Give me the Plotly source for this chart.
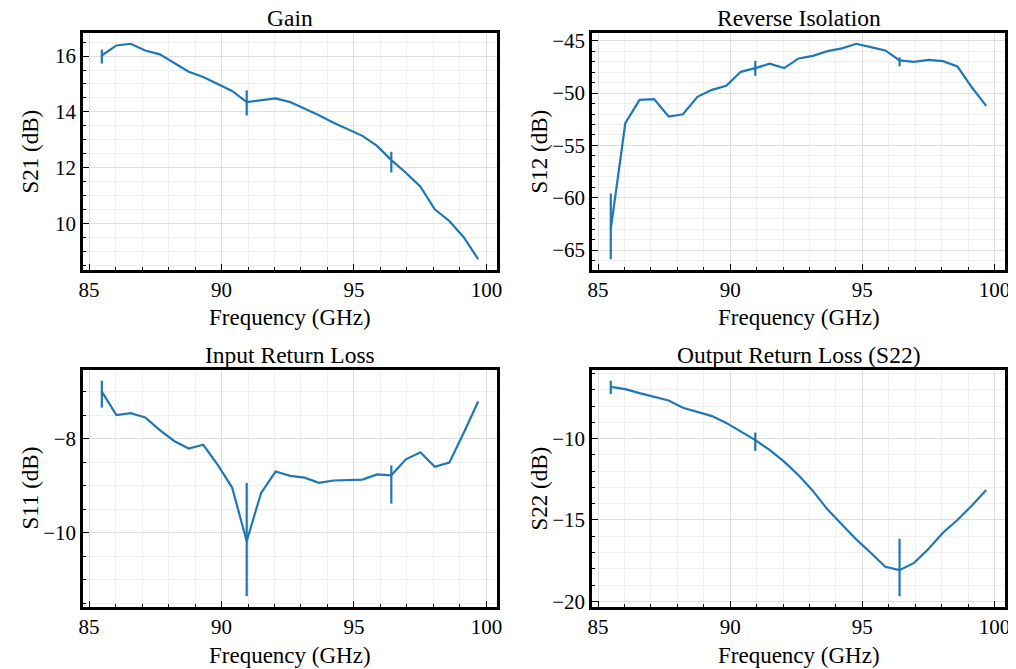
import plotly.graph_objects as go

# ---- data ----
freq = [85.48, 86.03, 86.57, 87.12, 87.67, 88.21, 88.76, 89.31, 89.85, 90.40,
        90.95, 91.49, 92.04, 92.59, 93.13, 93.68, 94.23, 94.77, 95.32, 95.87,
        96.41, 96.96, 97.51, 98.05, 98.60, 99.15, 99.69]

s21 = [16.02, 16.38, 16.44, 16.20, 16.06, 15.76, 15.44, 15.25, 14.99, 14.75,
       14.35, 14.41, 14.48, 14.35, 14.13, 13.88, 13.61, 13.38, 13.14, 12.78,
       12.27, 11.82, 11.32, 10.51, 10.09, 9.50, 8.72]
s12 = [-63.0, -52.88, -50.65, -50.58, -52.24, -52.02, -50.36, -49.69, -49.31, -47.97,
       -47.62, -47.20, -47.62, -46.69, -46.44, -45.99, -45.73, -45.29, -45.61, -45.93,
       -46.88, -47.01, -46.82, -46.95, -47.46, -49.47, -51.22]
s11 = [-7.00, -7.50, -7.46, -7.55, -7.82, -8.05, -8.21, -8.13, -8.55, -9.04,
       -10.18, -9.16, -8.70, -8.79, -8.83, -8.94, -8.89, -8.88, -8.87, -8.76,
       -8.78, -8.44, -8.29, -8.60, -8.51, -7.87, -7.21]
s22 = [-6.82, -6.96, -7.21, -7.43, -7.66, -8.11, -8.36, -8.62, -9.04, -9.57,
       -10.10, -10.70, -11.42, -12.26, -13.22, -14.35, -15.28, -16.20, -17.02, -17.88,
       -18.09, -17.64, -16.77, -15.79, -15.01, -14.11, -13.16]

# error bars at three frequency indices (upper / lower extent in dB)
err_idx = [0, 10, 20]
s21_err_up = [0.21, 0.42, 0.30]
s21_err_dn = [0.29, 0.48, 0.44]
s12_err_up = [3.41, 0.70, 0.29]
s12_err_dn = [2.87, 0.73, 0.57]
s11_err_up = [0.23, 1.24, 0.21]
s11_err_dn = [0.34, 1.17, 0.60]
s22_err_up = [0.37, 0.47, 1.93]
s22_err_dn = [0.45, 0.66, 1.60]

titles = ["Gain", "Reverse Isolation", "Input Return Loss", "Output Return Loss (S22)"]
ylabels = ["S21 (dB)", "S12 (dB)", "S11 (dB)", "S22 (dB)"]
xlabel = "Frequency (GHz)"
x_ticks = [85, 90, 95, 100]

# ---- layout geometry (screen pixels of the reference) ----
OFF = 8                 # page body margin offsets the figure
W, H = 1008, 661
FONT = "Liberation Serif"
BLUE = "#1f77b4"
panels = [  # x0, x1, y0(top), y1(bottom)
    (83, 497, 33, 270),
    (592, 1005, 33, 270),
    (83, 497, 370, 607),
    (592, 1005, 370, 607),
]
ydt = [(2, 0.5), (5, 1), (2, 0.5), (5, 1)]

series = [
    (s21, s21_err_up, s21_err_dn),
    (s12, s12_err_up, s12_err_dn),
    (s11, s11_err_up, s11_err_dn),
    (s22, s22_err_up, s22_err_dn),
]


def px(x):
    return (x - OFF) / W


def py(y):
    return 1 - (y - OFF) / H


fig = go.Figure()
annotations = []
layout = dict(
    width=W, height=H,
    margin=dict(l=0, r=0, t=0, b=0),
    paper_bgcolor="white", plot_bgcolor="white",
    showlegend=False,
    font=dict(family=FONT, size=21, color="black"),
)

xlo = min(freq); xhi = max(freq)
xpad = 0.05 * (xhi - xlo)

for i, ((vals, eu, ed), (x0, x1, y0, y1)) in enumerate(zip(series, panels)):
    n = "" if i == 0 else str(i + 1)
    up = [None] * len(vals)
    dn = [None] * len(vals)
    for k, j in enumerate(err_idx):
        up[j] = eu[k]
        dn[j] = ed[k]
    fig.add_trace(go.Scatter(
        x=freq, y=vals, mode="lines",
        line=dict(color=BLUE, width=2.2),
        error_y=dict(type="data", symmetric=False, array=up, arrayminus=dn,
                     color=BLUE, thickness=2.2, width=0),
        xaxis="x" + n, yaxis="y" + n, hoverinfo="skip",
    ))
    hi = max(v + (up[j] or 0) for j, v in enumerate(vals))
    lo = min(v - (dn[j] or 0) for j, v in enumerate(vals))
    ypad = 0.05 * (hi - lo)
    dt, mdt = ydt[i]
    common = dict(
        showline=True, linecolor="black", linewidth=2.5, mirror=True,
        ticks="inside", ticklen=6, tickwidth=1.2, tickcolor="black",
        showgrid=True, gridcolor="#dedede", gridwidth=1,
        zeroline=False, automargin=False,
        tickfont=dict(family=FONT, size=21, color="black"),
    )
    layout["xaxis" + n] = dict(
        common,
        domain=[px(x0), px(x1)],
        anchor="y" + n,
        range=[xlo - xpad, xhi + xpad],
        tickmode="array", tickvals=x_ticks,
        minor=dict(dtick=1, tick0=85, ticks="inside", ticklen=3, tickwidth=1,
                   tickcolor="black", showgrid=True, gridcolor="#efefef"),
        ticklabelstandoff=-1,
    )
    layout["yaxis" + n] = dict(
        common,
        domain=[py(y1), py(y0)],
        anchor="x" + n,
        range=[lo - ypad, hi + ypad],
        dtick=dt, tick0=0,
        minor=dict(dtick=mdt, ticks="inside", ticklen=3, tickwidth=1,
                   tickcolor="black", showgrid=True, gridcolor="#efefef"),
        ticklabelstandoff=0,
    )
    cx = (x0 + x1) / 2
    annotations.append(dict(text=titles[i], x=px(cx), y=py(y0 - 15), xref="paper", yref="paper",
                            showarrow=False, xanchor="center", yanchor="middle",
                            font=dict(family=FONT, size=23.5, color="black")))
    annotations.append(dict(text=xlabel, x=px(cx), y=py(y1 + 48), xref="paper", yref="paper",
                            showarrow=False, xanchor="center", yanchor="middle",
                            font=dict(family=FONT, size=23, color="black")))
    annotations.append(dict(text=ylabels[i], x=px(x0 - 53), y=py((y0 + y1) / 2), xref="paper",
                            yref="paper", showarrow=False, xanchor="center", yanchor="middle",
                            textangle=-90, font=dict(family=FONT, size=23, color="black")))

layout["annotations"] = annotations
fig.update_layout(**layout)
fig.write_html("out.html")
